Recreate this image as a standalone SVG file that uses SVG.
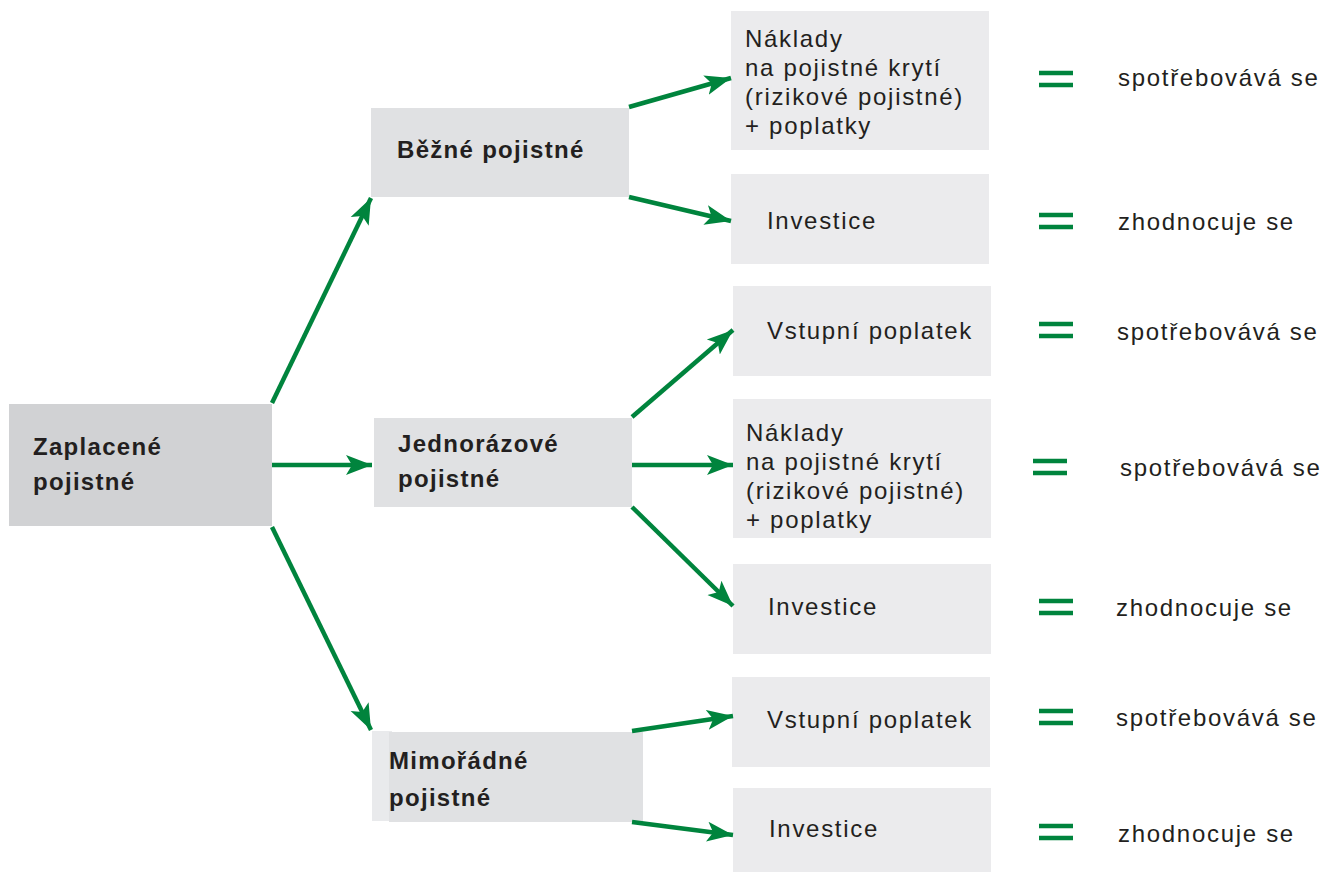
<svg xmlns="http://www.w3.org/2000/svg" width="1324" height="872" viewBox="0 0 1324 872">
<defs>
<marker id="ah" markerUnits="userSpaceOnUse" markerWidth="28" markerHeight="22" refX="26" refY="11" orient="auto">
<path d="M0,1 L26,11 L0,21 L6,11 Z" fill="#00843d"/>
</marker>
</defs>
<style>
.main{fill:#d1d2d4}
.mid{fill:#e0e1e3}
.leaf{fill:#ebebed}
.b{font-family:"Liberation Sans",Arial,sans-serif;font-weight:bold;font-size:24px;letter-spacing:1.3px;fill:#231f20}
.t{font-family:"Liberation Sans",Arial,sans-serif;font-size:24px;letter-spacing:1.7px;fill:#231f20}
.eq{stroke:#00843d;stroke-width:4.5}
.c{stroke:#00843d;stroke-width:4.5;fill:none;marker-end:url(#ah)}
</style>
<rect width="1324" height="872" fill="#fff"/>
<g id="n-zaplacene"><rect class="main" x="9" y="404" width="263" height="122"/><text class="b" x="33" y="455">Zaplacené</text><text class="b" x="33" y="490">pojistné</text></g>
<g id="n-bezne"><rect class="mid" x="371" y="108" width="258" height="89"/><text class="b" x="397" y="158">Běžné pojistné</text></g>
<g id="n-jednorazove"><rect class="mid" x="374" y="418" width="258" height="89"/><text class="b" x="398" y="452">Jednorázové</text><text class="b" x="398" y="487">pojistné</text></g>
<g id="n-mimoradne"><rect fill="#e9eaec" x="372" y="731" width="20" height="90"/><rect class="mid" x="389" y="732" width="254" height="90"/><text class="b" x="389" y="769">Mimořádné</text><text class="b" x="389" y="806">pojistné</text></g>
<g id="n-naklady1"><rect class="leaf" x="731" y="11" width="258" height="139"/><text class="t" x="745" y="47">Náklady</text><text class="t" x="745" y="76">na pojistné krytí</text><text class="t" x="745" y="105">(rizikové pojistné)</text><text class="t" x="745" y="134">+ poplatky</text></g>
<g id="n-investice1"><rect class="leaf" x="731" y="174" width="258" height="90"/><text class="t" x="767" y="229">Investice</text></g>
<g id="n-vstupni1"><rect class="leaf" x="733" y="286" width="258" height="90"/><text class="t" x="767" y="339">Vstupní poplatek</text></g>
<g id="n-naklady2"><rect class="leaf" x="733" y="399" width="258" height="139"/><text class="t" x="746" y="441">Náklady</text><text class="t" x="746" y="470">na pojistné krytí</text><text class="t" x="746" y="499">(rizikové pojistné)</text><text class="t" x="746" y="528">+ poplatky</text></g>
<g id="n-investice2"><rect class="leaf" x="733" y="564" width="258" height="90"/><text class="t" x="768" y="615">Investice</text></g>
<g id="n-vstupni2"><rect class="leaf" x="732" y="677" width="258" height="90"/><text class="t" x="767" y="728">Vstupní poplatek</text></g>
<g id="n-investice3"><rect class="leaf" x="733" y="788" width="258" height="84"/><text class="t" x="769" y="837">Investice</text></g>
<g id="results">
<line class="eq" x1="1039" y1="73" x2="1073" y2="73"/><line class="eq" x1="1039" y1="85" x2="1073" y2="85"/><text class="t" x="1118" y="86">spotřebovává se</text>
<line class="eq" x1="1039" y1="215" x2="1073" y2="215"/><line class="eq" x1="1039" y1="227" x2="1073" y2="227"/><text class="t" x="1118" y="230">zhodnocuje se</text>
<line class="eq" x1="1039" y1="324" x2="1073" y2="324"/><line class="eq" x1="1039" y1="336" x2="1073" y2="336"/><text class="t" x="1117" y="340">spotřebovává se</text>
<line class="eq" x1="1033" y1="461" x2="1067" y2="461"/><line class="eq" x1="1033" y1="473" x2="1067" y2="473"/><text class="t" x="1120" y="476">spotřebovává se</text>
<line class="eq" x1="1039" y1="601" x2="1073" y2="601"/><line class="eq" x1="1039" y1="613" x2="1073" y2="613"/><text class="t" x="1116" y="616">zhodnocuje se</text>
<line class="eq" x1="1039" y1="711" x2="1073" y2="711"/><line class="eq" x1="1039" y1="723" x2="1073" y2="723"/><text class="t" x="1116" y="726">spotřebovává se</text>
<line class="eq" x1="1039" y1="826" x2="1073" y2="826"/><line class="eq" x1="1039" y1="838" x2="1073" y2="838"/><text class="t" x="1118" y="842">zhodnocuje se</text>
</g>
<g id="connectors">
<line class="c" x1="272" y1="403" x2="371" y2="198"/>
<line class="c" x1="272" y1="465" x2="372" y2="465"/>
<line class="c" x1="272" y1="527" x2="371" y2="730"/>
<line class="c" x1="629" y1="107" x2="731" y2="78"/>
<line class="c" x1="629" y1="197" x2="731" y2="221"/>
<line class="c" x1="632" y1="417" x2="733" y2="330"/>
<line class="c" x1="632" y1="465" x2="733" y2="465"/>
<line class="c" x1="632" y1="507" x2="733" y2="606"/>
<line class="c" x1="632" y1="731" x2="733" y2="716"/>
<line class="c" x1="632" y1="822" x2="733" y2="835"/>
</g>
</svg>
